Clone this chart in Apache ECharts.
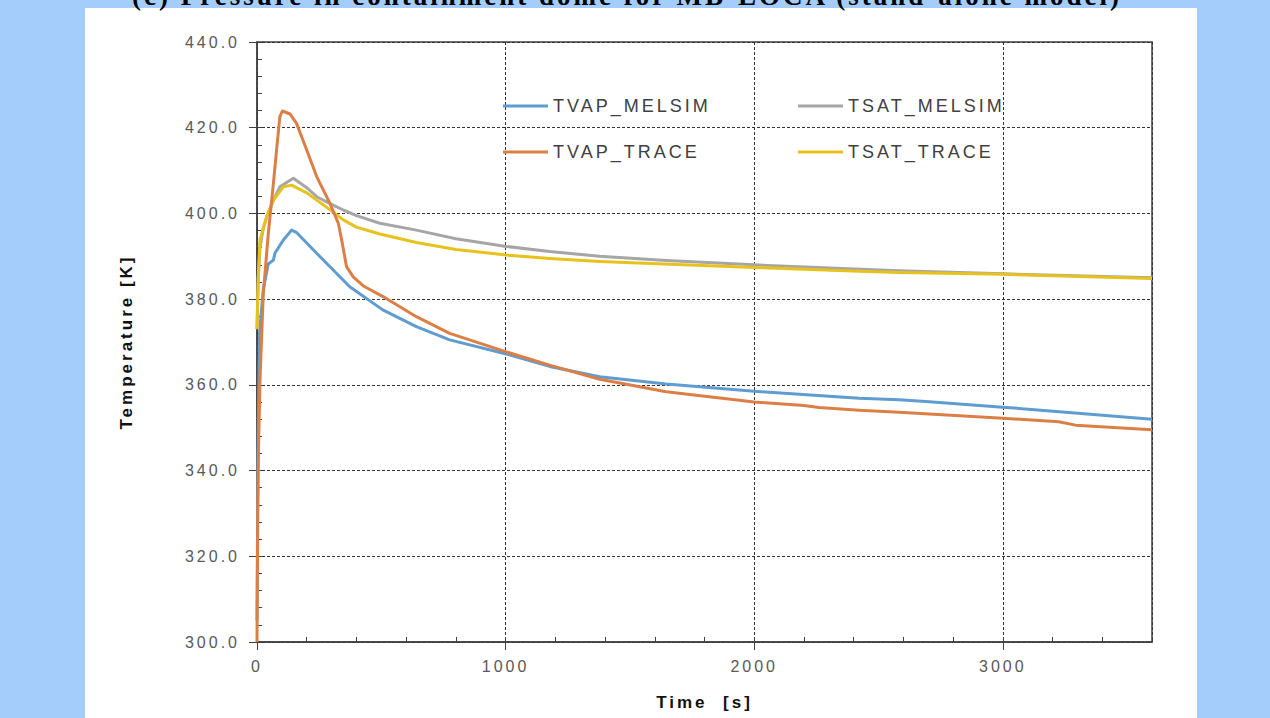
<!DOCTYPE html>
<html>
<head>
<meta charset="utf-8">
<script src="https://cdn.jsdelivr.net/npm/echarts@6/dist/echarts.min.js"></script>
<style>
  html, body { margin: 0; padding: 0; background: #a4cdfb; }
  #chart { width: 1270px; height: 718px; }
  #chart svg text { letter-spacing: 3px; }
</style>
</head>
<body>
<div id="chart"></div>
<script>
  var title = '(c) Pressure in containment dome for MB-LOCA (stand-alone model)';
  var seriesNames = ['TVAP_MELSIM', 'TSAT_MELSIM', 'TVAP_TRACE', 'TSAT_TRACE'];
  var xTicks = [0, 1000, 2000, 3000];
  var yTicks = [300, 320, 340, 360, 380, 400, 420, 440];

  // time [s] and temperature [K]
  var tvapMelsimTime = [0, 4, 10, 25, 45, 66, 72, 106, 139, 160, 240, 373, 506, 641, 775, 1003, 1177, 1378, 1646, 2000, 2422, 2582, 2690, 3000, 3600];
  var tvapMelsimTemp = [305, 345, 372, 382.1, 388.2, 389.1, 390.7, 393.8, 396.1, 395.5, 390.7, 382.9, 377.5, 373.6, 370.5, 367.2, 364.3, 361.9, 360.2, 358.5, 356.9, 356.5, 356.1, 354.8, 352.0];

  var tsatMelsimTime = [0, 5, 12, 25, 39, 66, 92, 146, 200, 240, 300, 347, 400, 494, 641, 800, 1003, 1177, 1378, 1646, 2000, 2582, 3000, 3600];
  var tsatMelsimTemp = [373, 385, 392, 396.5, 399.2, 403.1, 406.2, 408.2, 406, 403.9, 402.1, 400.8, 399.5, 397.7, 396.1, 394.1, 392.3, 391.1, 390.0, 389.0, 388.0, 386.6, 385.9, 385.0];

  var tvapTraceTime = [0, 3, 6, 12, 25, 45, 52, 66, 79, 92, 102, 133, 159, 200, 240, 293, 327, 340, 360, 387, 430, 507, 641, 775, 1003, 1177, 1378, 1646, 2000, 2200, 2260, 2422, 2582, 3000, 3225, 3292, 3600];
  var tvapTraceTemp = [300, 330, 345, 361, 381, 395, 399, 407, 415, 422.6, 423.9, 423.2, 421, 414.8, 408.6, 402.4, 397.7, 394, 387.6, 385.2, 383, 380.6, 375.9, 372, 367.7, 364.6, 361.3, 358.4, 356, 355.2, 354.7, 354.1, 353.6, 352.2, 351.4, 350.6, 349.5];

  var tsatTraceTime = [0, 5, 12, 39, 66, 106, 139, 200, 240, 300, 347, 400, 494, 641, 800, 1003, 1177, 1378, 2000, 2422, 2582, 3000, 3600];
  var tsatTraceTemp = [373, 385, 393.8, 399.2, 403.1, 406.2, 406.6, 404.8, 403.1, 400.6, 398.5, 396.8, 395.2, 393.2, 391.6, 390.3, 389.5, 388.8, 387.4, 386.5, 386.2, 385.8, 384.8];

  var colors = ['#5f9ccf', '#a6a6a6', '#dc7f46', '#e8c21c'];

  function pairs(xs, ys) {
    return xs.map(function (x, i) { return [x, ys[i]]; });
  }

  var seriesData = [
    pairs(tvapMelsimTime, tvapMelsimTemp),
    pairs(tsatMelsimTime, tsatMelsimTemp),
    pairs(tvapTraceTime, tvapTraceTemp),
    pairs(tsatTraceTime, tsatTraceTemp)
  ];

  var legendPos = [[503, 97], [798, 97], [503, 143], [798, 143]];

  var chart = echarts.init(document.getElementById('chart'), null, { renderer: 'svg' });

  var splitStyle = { show: true, lineStyle: { color: '#333', width: 1, type: [3, 2] } };
  var labelFont = { color: '#595959', fontSize: 16, fontFamily: '"Liberation Sans", Arial, sans-serif' };

  chart.setOption({
    animation: false,
    color: colors,
    graphic: [
      { type: 'rect', z: -10, shape: { x: 85, y: 8, width: 1112, height: 710 }, style: { fill: '#fff' } },
      {
        type: 'text', z: -5, x: 627, y: -4,
        style: {
          text: title, align: 'center', verticalAlign: 'middle',
          font: 'bold 27px "Liberation Serif", "Times New Roman", serif', fill: '#000'
        }
      }
    ],
    grid: { left: 257, right: 118, top: 42, bottom: 76, show: true, borderColor: '#404040', borderWidth: 1.5 },
    legend: seriesNames.map(function (name, i) {
      return {
        data: [name], left: legendPos[i][0], top: legendPos[i][1], padding: 0,
        icon: 'rect', itemWidth: 45, itemHeight: 3, selectedMode: false,
        textStyle: { color: '#404040', fontSize: 18, fontFamily: '"Liberation Sans", Arial, sans-serif' }
      };
    }),
    xAxis: [{
      type: 'value', min: xTicks[0], max: 3600, interval: xTicks[1] - xTicks[0],
      name: 'Time  [s]', nameLocation: 'middle', nameGap: 52,
      nameTextStyle: { fontSize: 17, fontWeight: 'bold', color: '#111', fontFamily: '"Liberation Sans", Arial, sans-serif' },
      axisLine: { lineStyle: { color: '#404040', width: 1.5 } },
      axisTick: { length: 8, lineStyle: { color: '#404040' } },
      axisLabel: Object.assign({ margin: 16, showMaxLabel: false, formatter: function (v) { return String(v); } }, labelFont),
      splitLine: splitStyle
    }, {
      type: 'value', position: 'bottom', min: 0, max: 3600, interval: 200,
      axisLine: { show: false }, axisLabel: { show: false }, splitLine: { show: false },
      axisTick: { inside: true, length: 5, lineStyle: { color: '#404040' } }
    }],
    yAxis: [{
      type: 'value', min: yTicks[0], max: yTicks[yTicks.length - 1], interval: yTicks[1] - yTicks[0],
      name: 'Temperature [K]', nameLocation: 'middle', nameGap: 122,
      nameTextStyle: { fontSize: 17, fontWeight: 'bold', color: '#111', fontFamily: '"Liberation Sans", Arial, sans-serif' },
      axisLine: { show: true, lineStyle: { color: '#404040', width: 1.5 } },
      axisTick: { show: true, length: 8, lineStyle: { color: '#404040' } },
      axisLabel: Object.assign({ margin: 17, formatter: function (v) { return v.toFixed(1); } }, labelFont),
      splitLine: splitStyle
    }, {
      type: 'value', position: 'left', min: 300, max: 440, interval: 4,
      axisLine: { show: false }, axisLabel: { show: false }, splitLine: { show: false },
      axisTick: { show: true, inside: true, length: 5, lineStyle: { color: '#404040' } }
    }],
    series: seriesNames.map(function (name, i) {
      return {
        name: name, type: 'line', data: seriesData[i], showSymbol: false, symbol: 'none',
        lineStyle: { width: 3, color: colors[i], join: 'round' }, itemStyle: { color: colors[i] },
        z: i === 2 ? 3 : 2
      };
    })
  });
</script>
</body>
</html>
